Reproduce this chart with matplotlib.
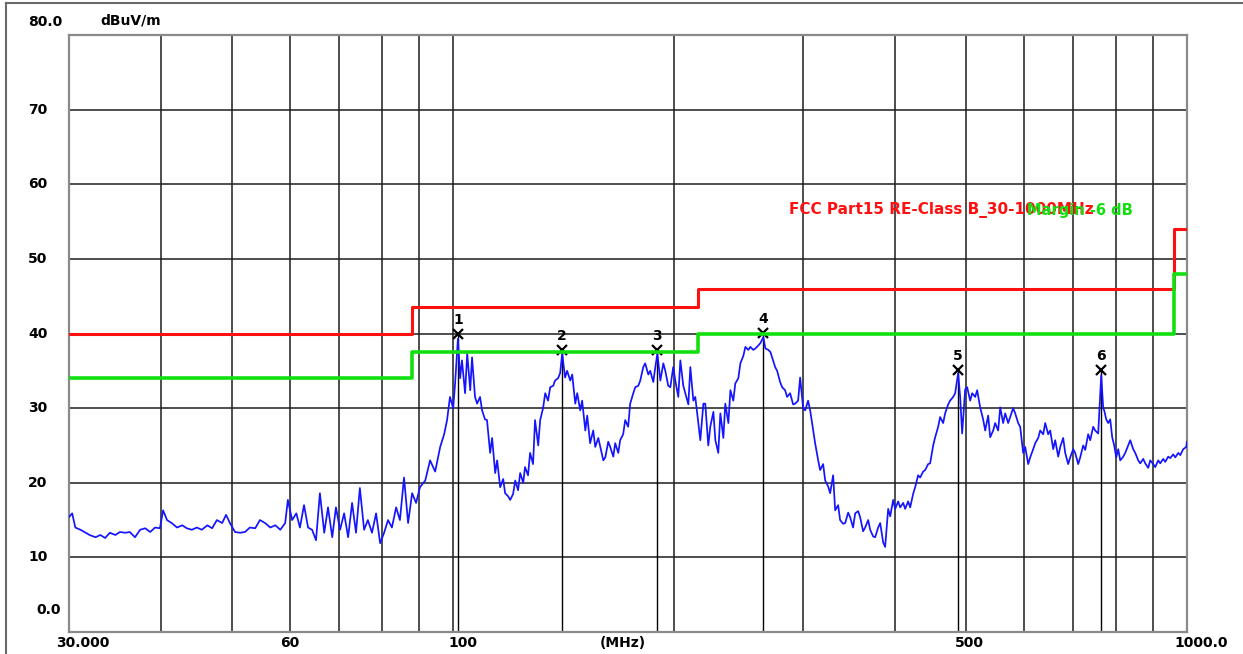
import matplotlib
matplotlib.use("Agg")
from matplotlib import pyplot as plt
from matplotlib.lines import Line2D
import matplotlib.transforms as mtransforms

W, H = 1243, 654

# limit lines, step edges (MHz, dBuV/m)
limit_freq = [30, 88, 216, 960, 1000]
limit_fcc = [40.0, 43.5, 46.0, 54.0, 54.0]
limit_margin = [34.0, 37.5, 40.0, 48.0, 48.0]

# peak markers
marker_freq = [101.6, 140.9, 189.9, 264.8, 487.8, 764.1]
marker_level = [40.0, 37.8, 37.8, 40.1, 35.1, 35.1]
marker_names = ["1", "2", "3", "4", "5", "6"]

trace_freq = [
    30.0, 30.3, 30.6, 31.1, 31.6, 32.0, 32.6, 33.1, 33.6, 34.1,
    34.7, 35.2, 35.8, 36.3, 36.9, 37.5, 38.1, 38.7, 39.3, 39.9,
    40.3, 40.8, 41.4, 42.1, 42.8, 43.4, 44.1, 44.8, 45.5, 46.3,
    47.0, 47.7, 48.5, 49.1, 49.7, 50.5, 51.3, 52.1, 52.9, 53.8,
    54.6, 55.5, 56.4, 57.3, 58.2, 59.1, 59.6, 60.4, 61.2, 61.9,
    62.7, 63.5, 64.3, 65.1, 65.9, 66.8, 67.6, 68.5, 69.3, 70.2,
    71.1, 72.0, 72.9, 73.8, 74.7, 75.7, 76.6, 77.6, 78.6, 79.6,
    80.6, 81.6, 82.6, 83.7, 84.7, 85.8, 86.9, 88.0, 89.1, 90.2,
    91.7, 93.1, 94.6, 96.1, 97.3, 98.2, 99.1, 100.1, 100.7, 101.6,
    102.3, 102.9, 103.9, 104.6, 105.6, 106.2, 107.2, 107.9, 108.9, 109.6,
    110.6, 111.3, 112.4, 113.1, 114.2, 114.9, 116.0, 117.1, 117.8, 118.9,
    119.7, 120.8, 121.6, 122.7, 123.5, 124.7, 125.4, 126.6, 127.4, 128.6,
    129.4, 130.7, 131.5, 132.7, 133.6, 134.8, 135.7, 137.0, 137.8, 139.1,
    140.0, 140.9, 142.2, 143.1, 144.5, 145.4, 146.8, 147.7, 149.1, 150.0,
    151.5, 152.4, 153.8, 155.3, 156.3, 157.8, 158.8, 160.3, 161.3, 162.8,
    163.8, 165.4, 166.4, 168.0, 169.0, 170.6, 171.7, 173.3, 174.4, 176.1,
    177.2, 178.9, 180.0, 181.7, 182.8, 184.6, 185.7, 187.5, 188.7, 189.9,
    191.7, 193.5, 194.7, 196.5, 197.8, 199.6, 200.9, 202.8, 204.1, 206.0,
    207.3, 209.3, 210.6, 212.6, 213.9, 215.9, 217.3, 219.4, 220.7, 222.8,
    224.2, 226.4, 227.8, 229.9, 231.4, 233.6, 235.0, 237.3, 238.8, 241.0,
    242.5, 244.8, 246.4, 248.7, 250.3, 252.6, 254.2, 256.6, 258.3, 260.7,
    262.3, 264.8, 266.5, 269.0, 270.8, 272.2, 274.8, 276.5, 279.1, 280.9,
    283.5, 285.3, 288.0, 290.7, 292.6, 295.3, 297.2, 300.0, 301.9, 304.7,
    306.7, 309.6, 311.5, 314.5, 316.4, 319.4, 321.5, 324.5, 326.5, 329.6,
    331.7, 334.8, 336.9, 340.1, 342.3, 345.5, 347.6, 350.9, 353.2, 356.5,
    358.7, 362.1, 364.4, 367.9, 370.2, 373.7, 376.0, 379.6, 382.0, 385.6,
    388.0, 391.7, 394.2, 397.9, 400.4, 404.2, 406.7, 410.6, 413.1, 417.0,
    419.7, 423.6, 426.3, 430.3, 433.0, 437.1, 439.9, 444.0, 446.8, 451.1,
    453.9, 458.2, 461.0, 465.4, 468.3, 472.8, 475.7, 480.2, 483.3, 487.8,
    490.9, 494.0, 498.7, 501.8, 506.6, 509.8, 514.6, 517.8, 522.7, 527.6,
    531.0, 536.0, 539.4, 544.5, 547.9, 553.1, 556.6, 561.8, 565.4, 570.7,
    574.3, 579.7, 583.4, 588.9, 592.6, 598.2, 602.0, 607.7, 611.5, 617.3,
    621.2, 627.1, 631.0, 637.0, 641.0, 647.0, 651.1, 657.3, 661.4, 667.7,
    671.9, 678.2, 682.5, 688.9, 693.3, 699.8, 704.2, 710.9, 715.4, 722.1,
    726.7, 733.5, 738.2, 745.1, 749.8, 756.9, 764.1, 768.9, 771.3, 776.2,
    781.1, 786.0, 790.9, 795.9, 800.9, 806.0, 811.0, 818.7, 823.9, 831.7,
    836.9, 844.8, 850.1, 858.2, 863.6, 871.7, 877.2, 885.5, 891.1, 899.5,
    905.1, 913.7, 919.5, 928.1, 934.0, 942.8, 948.8, 957.7, 963.8, 972.9,
    979.0, 988.3, 997.6, 1000.0,
]
trace_level = [
    15.4, 15.9, 14.0, 13.7, 13.3, 13.0, 12.7, 13.0, 12.6, 13.3,
    13.0, 13.4, 13.3, 13.4, 12.7, 13.7, 13.9, 13.4, 14.0, 13.9,
    16.3, 15.0, 14.6, 14.0, 14.3, 13.9, 13.7, 14.0, 13.7, 14.3,
    13.9, 15.0, 14.6, 15.7, 14.6, 13.4, 13.3, 13.4, 14.0, 13.9,
    15.0, 14.6, 14.0, 14.3, 13.7, 14.6, 17.7, 15.0, 15.9, 14.0,
    17.0, 14.0, 13.7, 12.3, 18.6, 13.3, 16.7, 12.7, 16.7, 13.7,
    15.9, 12.7, 17.3, 13.3, 19.3, 13.7, 15.0, 13.3, 15.9, 11.9,
    13.3, 15.0, 14.0, 16.7, 15.0, 20.7, 14.6, 18.6, 17.3, 19.4,
    20.3, 23.0, 21.5, 24.8, 26.5, 28.4, 31.5, 30.0, 33.3, 39.3,
    34.0, 36.4, 32.0, 37.3, 32.4, 36.8, 31.5, 30.6, 31.5, 29.7,
    28.5, 28.4, 24.0, 26.0, 21.3, 23.0, 19.4, 20.5, 18.6, 18.2,
    17.7, 18.5, 20.3, 19.0, 21.3, 20.0, 22.1, 21.0, 24.0, 22.5,
    28.4, 25.0, 28.4, 30.0, 32.0, 31.0, 32.8, 33.0, 33.7, 34.0,
    34.7, 37.3, 34.1, 35.0, 33.7, 34.5, 30.6, 32.0, 29.7, 31.0,
    27.0, 29.0, 25.3, 27.0, 24.8, 26.0, 24.8, 23.0, 23.4, 25.5,
    24.8, 23.5, 25.3, 24.0, 25.7, 26.5, 28.4, 27.5, 30.6, 32.0,
    32.8, 33.0, 33.7, 35.5, 36.0, 34.5, 35.0, 33.5, 35.5, 37.3,
    33.7, 36.0, 35.0, 33.0, 32.8, 35.5, 33.7, 31.5, 36.4, 33.0,
    32.0, 30.5, 35.5, 31.0, 31.5, 28.0, 25.7, 30.6, 30.6, 25.0,
    27.5, 29.5, 25.7, 24.0, 29.3, 26.0, 30.6, 28.0, 32.4, 31.0,
    33.3, 34.0, 36.0, 37.0, 38.2, 37.8, 38.2, 37.8, 38.0, 38.4,
    38.7, 39.5, 38.0, 37.8, 37.5, 36.8, 35.5, 35.0, 33.5, 32.8,
    32.4, 31.5, 32.0, 30.5, 30.6, 31.0, 34.1, 30.0, 29.7, 31.0,
    29.7, 27.0, 25.3, 23.0, 21.7, 22.5, 20.3, 19.5, 18.6, 21.0,
    16.3, 17.0, 15.0, 14.5, 14.6, 16.0, 15.4, 14.0, 15.9, 16.2,
    15.4, 13.5, 14.0, 15.0, 13.7, 12.8, 12.7, 14.0, 14.6, 12.0,
    11.4, 16.5, 15.5, 17.7, 16.5, 17.5, 16.7, 17.3, 16.5, 17.5,
    16.7, 18.5, 19.4, 21.0, 20.7, 21.5, 21.7, 22.5, 22.6, 25.0,
    26.1, 27.5, 28.8, 28.0, 29.3, 30.5, 31.0, 31.5, 32.0, 34.7,
    31.5, 26.6, 32.5, 32.8, 31.0, 32.0, 31.5, 32.4, 30.1, 28.5,
    27.0, 29.0, 26.1, 27.0, 28.0, 27.0, 30.1, 28.0, 29.3, 28.0,
    28.8, 30.0, 29.3, 28.0, 27.5, 24.0, 24.8, 22.5, 23.4, 24.5,
    25.3, 26.0, 27.0, 26.5, 28.0, 26.5, 27.0, 24.5, 25.7, 23.5,
    24.8, 26.0, 24.0, 22.5, 23.4, 24.5, 24.0, 22.5, 23.4, 25.0,
    24.4, 26.5, 25.7, 27.5, 27.0, 26.6, 34.4, 30.0, 29.7, 28.5,
    28.0, 28.5, 26.1, 25.0, 23.4, 24.5, 23.0, 23.5, 24.0, 25.0,
    25.7, 24.5, 24.0, 23.0, 22.6, 23.2, 22.6, 22.0, 23.0, 22.5,
    22.1, 23.0, 22.6, 23.2, 22.8, 23.5, 23.3, 23.8, 23.4, 24.0,
    23.7, 24.5, 24.8, 25.5,
]

y_ticks = [10, 20, 30, 40, 50, 60, 70]

fig = plt.figure(figsize=(W / 100, H / 100), dpi=100)
ax = fig.add_axes([69 / W, 1 - 632 / H, (1187 - 69) / W, (632 - 35) / H])

ax.set_xscale("log")
ax.set_xlim(30, 1000)
ax.set_ylim(0, 80)
ax.set_yticks(y_ticks)
ax.grid(True, which="both", color="#1c1c1c", lw=1.1, zorder=1)
ax.tick_params(which="both", length=0, labelleft=False, labelbottom=False)
for s in ax.spines.values():
    s.set_color("#8a8a8a")
    s.set_linewidth(1.6)

# trace
ax.plot(trace_freq, trace_level, color="#1414ff", lw=1.25, zorder=3)

# marker lines and crosses
ax.vlines(marker_freq, 0, marker_level, color="k", lw=1.0, zorder=2)
ax.plot(marker_freq, marker_level, "x", color="k", ms=7, mew=1.6, zorder=4)
for f, v, n in zip(marker_freq, marker_level, marker_names):
    ax.annotate(n, (f, v), xytext=(0, 5), textcoords="offset points",
                ha="center", va="bottom", fontsize=10, fontweight="bold")

# limits
ax.plot(limit_freq, limit_fcc, drawstyle="steps-post", color="#ff1010", lw=2.2, zorder=5)
ax.plot(limit_freq, limit_margin, drawstyle="steps-post", color="#10e010", lw=2.6, zorder=5)

# the two legend texts overlap in the original screenshot as well
ax.text(287, 56.5, "FCC Part15 RE-Class B_30-1000MHz", color="#ff1010",
        fontsize=11, fontweight="bold", va="center", ha="left", zorder=6)
ax.text(843, 56.5, "Margin -6 dB", color="#10e010",
        fontsize=10.5, fontweight="bold", va="center", ha="right", zorder=6)

# y labels
ytr = mtransforms.blended_transform_factory(fig.transFigure, ax.transData)
for v in y_ticks:
    ax.text(28 / W, v, str(v), transform=ytr, ha="left", va="center",
            fontsize=10, fontweight="bold")
fig.text(28 / W, 1 - 22 / H, "80.0", ha="left", va="center", fontsize=10, fontweight="bold")
fig.text(36 / W, 1 - 610 / H, "0.0", ha="left", va="center", fontsize=10, fontweight="bold")
fig.text(100 / W, 1 - 21 / H, "dBuV/m", ha="left", va="center", fontsize=10, fontweight="bold")

# x labels
xtr = mtransforms.blended_transform_factory(ax.transData, fig.transFigure)
x_labels = [(31.3, "30.000"), (60, "60"), (103.3, "100"), (170.6, "(MHz)"),
            (505.9, "500"), (1047, "1000.0")]
for f, t in x_labels:
    ax.text(f, 1 - 643 / H, t, transform=xtr, ha="center", va="center",
            fontsize=10, fontweight="bold", clip_on=False)

# outer frame of the screenshot
fig.add_artist(Line2D([6 / W, 6 / W], [0, 1 - 3 / H], color="#6a6a6a", lw=1.5))
fig.add_artist(Line2D([6 / W, 1], [1 - 3 / H, 1 - 3 / H], color="#6a6a6a", lw=1.5))

fig.savefig("out.png", dpi=100)
